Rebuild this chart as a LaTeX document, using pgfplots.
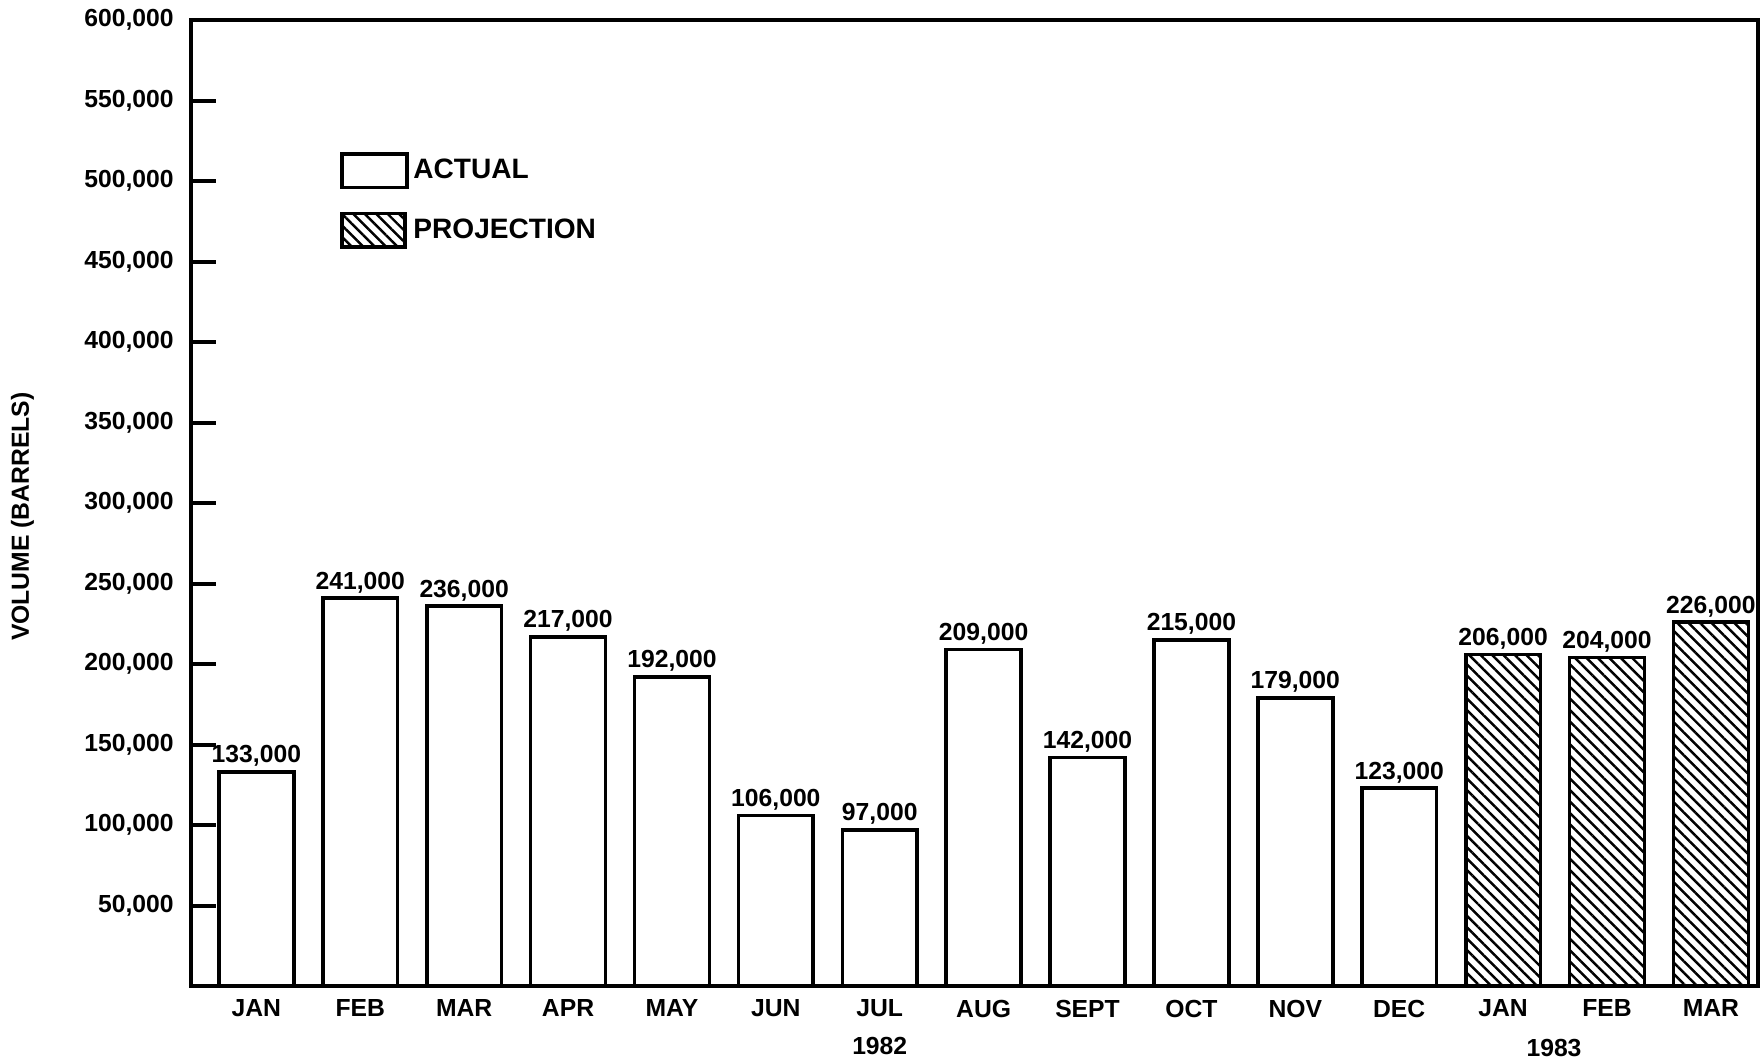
\documentclass[border=0pt]{standalone}
\usepackage{fontspec}
\setmainfont{Liberation Sans}
\usepackage{pgfplots}
\pgfplotsset{compat=1.18}
\usetikzlibrary{patterns.meta}
\newcommand{\lab}{\fontsize{11}{13}\selectfont\bfseries}
\newcommand{\leglab}{\fontsize{12.5}{14}\selectfont\bfseries}

\pgfplotstableread{
x  y
0  133000
1  241000
2  236000
3  217000
4  192000
5  106000
6  97000
7  209000
8  142000
9  215000
10 179000
11 123000
}\actual

\pgfplotstableread{
x  y
12 206000
13 204000
14 226000
}\projection

\tikzset{hatch/.style={pattern={Lines[angle=-45,distance=3.6pt,line width=1.1pt]}}}

\begin{document}
\begin{tikzpicture}
\useasboundingbox (-85pt,-33.5pt) rectangle (699pt,439pt);
\begin{axis}[
  at={(0,0)}, anchor=south west,
  scale only axis, width=697.5pt, height=430pt,
  ybar, bar width=0.72,
  xmin=-0.63, xmax=14.45, ymin=0, ymax=600000,
  clip=false,
  axis line style={line width=1.8pt},
  xtick={0,1,2,3,4,5,6,7,8,9,10,11,12,13,14},
  xticklabels={JAN,FEB,MAR,APR,MAY,JUN,JUL,AUG,SEPT,OCT,NOV,DEC,JAN,FEB,MAR},
  x tick style={draw=none},
  xticklabel style={font=\lab, inner sep=0pt, yshift=-6pt},
  ytick={50000,100000,150000,200000,250000,300000,350000,400000,450000,500000,550000,600000},
  ytick pos=left,
  tick align=inside,
  major tick length=11pt,
  y tick style={line width=1.8pt, black},
  scaled y ticks=false,
  /pgf/number format/.cd, fixed, precision=0, 1000 sep={,}, assume math mode=true,
  /pgfplots/.cd,
  yticklabel={\pgfmathprintnumber{\tick}},
  yticklabel style={font=\lab, inner sep=0pt, xshift=-7.5pt},
  ylabel={VOLUME (BARRELS)},
  ylabel style={font=\lab, at={(axis description cs:-0.1075,0.486)}, anchor=center},
  nodes near coords={\pgfmathprintnumber{\pgfplotspointmeta}},
  every node near coord/.append style={font=\lab, anchor=south, inner sep=1.5pt},
  legend style={draw=none, fill=none, at={(0.095,0.864)}, anchor=north west,
    font=\leglab, row sep=10pt, inner sep=0pt},
  legend cell align=left,
]
\addplot[bar shift=0pt, draw=black, line width=1.6pt, fill=white,
  legend image code/.code={\draw[line width=1.6pt, fill=white] (0pt,-7.5pt) rectangle (29pt,7.5pt);}]
  table[x=x, y=y] {\actual};
\addlegendentry{ACTUAL}
\addplot[bar shift=0pt, draw=black, line width=1.6pt, hatch,
  legend image code/.code={\draw[line width=1.6pt, hatch] (0pt,-7.5pt) rectangle (28pt,7.5pt);}]
  table[x=x, y=y] {\projection};
\addlegendentry{PROJECTION}
\node[font=\lab] at (axis cs:6,0) [yshift=-26.5pt] {1982};
\node[font=\lab] at (axis cs:12.49,0) [yshift=-27.5pt] {1983};
\end{axis}
\end{tikzpicture}
\end{document}
